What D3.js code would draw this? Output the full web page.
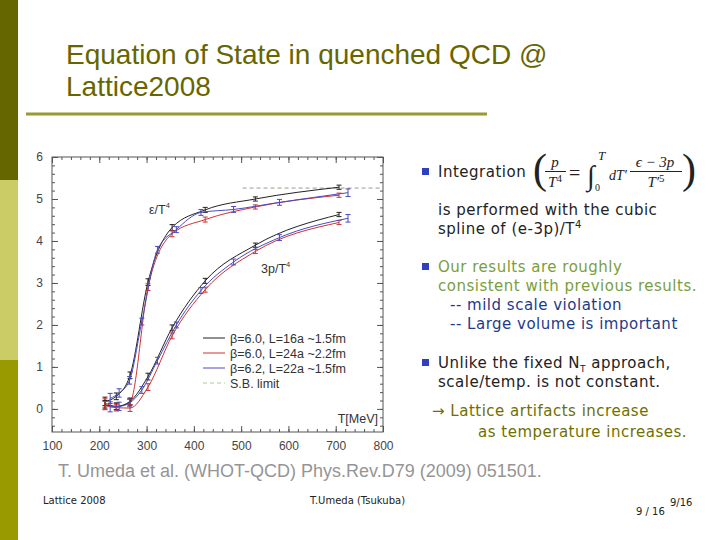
<!DOCTYPE html>
<html><head><meta charset="utf-8">
<script src="https://cdn.jsdelivr.net/npm/d3@7"></script>
<style>
html,body{margin:0;padding:0;background:#fff;}
svg{display:block;}
</style></head>
<body>
<svg id="s" width="720" height="540"></svg>
<script>
// ---------- data ----------
const T_b60 = [212, 236, 265, 303, 354, 424, 530, 707];
const T_b62 = [223, 242, 264, 290, 323, 363, 415, 484, 581, 726];
const eps_b60L16 = [0.18, 0.30, 0.80, 3.02, 4.32, 4.74, 5.00, 5.28];
const eps_b60L24 = [0.14, 0.06, 0.16, 2.90, 4.17, 4.51, 4.81, 5.09];
const eps_b62L22 = [0.25, 0.38, 0.68, 2.08, 3.79, 4.27, 4.68, 4.75, 4.92, 5.15];
const p3_b60L16 = [0.10, 0.06, 0.18, 0.77, 1.93, 3.05, 3.90, 4.63];
const p3_b60L24 = [0.08, 0.03, 0.02, 0.52, 1.74, 2.84, 3.75, 4.44];
const p3_b62L22 = [0.05, 0.06, 0.14, 0.45, 1.15, 2.00, 2.82, 3.50, 4.08, 4.54];
const err_b60 = [0.10, 0.08, 0.08, 0.08, 0.07, 0.06, 0.05, 0.05];
const err_b62 = [0.12, 0.10, 0.09, 0.08, 0.08, 0.07, 0.07, 0.07, 0.07, 0.09];
const sbLimit = 5.26;
const sbRange = [503, 800];
const legendLabels = ["β=6.0, L=16a ~1.5fm", "β=6.0, L=24a ~2.2fm", "β=6.2, L=22a ~1.5fm", "S.B. limit"];
const xTicks = [100, 200, 300, 400, 500, 600, 700, 800];
const yTicks = [0, 1, 2, 3, 4, 5, 6];

const svg = d3.select("#s");

// ---------- slide decoration ----------
svg.append("rect").attr("x",0).attr("y",0).attr("width",18).attr("height",180).attr("fill","#666600");
svg.append("rect").attr("x",0).attr("y",180).attr("width",18).attr("height",180).attr("fill","#cccc66");
svg.append("rect").attr("x",0).attr("y",360).attr("width",18).attr("height",180).attr("fill","#999900");
svg.append("rect").attr("x",26).attr("y",112.5).attr("width",461).attr("height",3).attr("fill","#999933");

const title = svg.append("text").attr("font-family","Liberation Sans, Arial, sans-serif")
  .attr("font-size",28).attr("fill","#666600");
title.append("tspan").attr("x",66).attr("y",64).text("Equation of State in quenched QCD @");
title.append("tspan").attr("x",66).attr("y",96).text("Lattice2008");

// ---------- chart ----------
const x = d3.scaleLinear().domain([100,800]).range([52,383]);
const y = d3.scaleLinear().domain([-0.55,6]).range([432,157]);
const axCol = "#555";
const g = svg.append("g");

g.append("rect").attr("x",52).attr("y",157).attr("width",331).attr("height",275)
  .attr("fill","none").attr("stroke",axCol).attr("stroke-width",1);

function styleAxis(sel){
  sel.select(".domain").remove();
  sel.selectAll("line").attr("stroke",axCol);
  sel.selectAll("text").attr("fill","#444").attr("font-family","Liberation Sans, Arial, sans-serif").attr("font-size",12);
}
const xMinor = d3.range(100,801,20);
const yMinor = d3.range(-0.4,6.01,0.2).map(v=>+v.toFixed(2));
// bottom
g.append("g").attr("transform","translate(0,432)").call(d3.axisBottom(x).tickValues(xMinor).tickSize(-3).tickFormat("")).call(styleAxis);
g.append("g").attr("transform","translate(0,432)").call(d3.axisBottom(x).tickValues(xTicks).tickSize(-6).tickPadding(9).tickFormat(d3.format("d"))).call(styleAxis);
// top
g.append("g").attr("transform","translate(0,157)").call(d3.axisTop(x).tickValues(xMinor).tickSize(-3).tickFormat("")).call(styleAxis);
g.append("g").attr("transform","translate(0,157)").call(d3.axisTop(x).tickValues(xTicks).tickSize(-6).tickFormat("")).call(styleAxis);
// left
g.append("g").attr("transform","translate(52,0)").call(d3.axisLeft(y).tickValues(yMinor).tickSize(-3).tickFormat("")).call(styleAxis);
g.append("g").attr("transform","translate(52,0)").call(d3.axisLeft(y).tickValues(yTicks).tickSize(-6).tickPadding(9).tickFormat(d3.format("d"))).call(styleAxis);
// right
g.append("g").attr("transform","translate(383,0)").call(d3.axisRight(y).tickValues(yMinor).tickSize(-3).tickFormat("")).call(styleAxis);
g.append("g").attr("transform","translate(383,0)").call(d3.axisRight(y).tickValues(yTicks).tickSize(-6).tickFormat("")).call(styleAxis);

// SB limit
g.append("line").attr("x1",x(sbRange[0])).attr("x2",x(sbRange[1])).attr("y1",y(sbLimit)).attr("y2",y(sbLimit))
  .attr("stroke","#9a9a88").attr("stroke-dasharray","4,3").attr("stroke-width",1);

const series = [
  {T:T_b60, v:eps_b60L16, e:err_b60, c:"#222222"},
  {T:T_b60, v:eps_b60L24, e:err_b60, c:"#cc3333"},
  {T:T_b62, v:eps_b62L22, e:err_b62, c:"#4a4ac0"},
  {T:T_b60, v:p3_b60L16, e:err_b60, c:"#222222"},
  {T:T_b60, v:p3_b60L24, e:err_b60, c:"#cc3333"},
  {T:T_b62, v:p3_b62L22, e:err_b62, c:"#4a4ac0"}
];
const line = d3.line().x(d=>x(d[0])).y(d=>y(d[1])).curve(d3.curveMonotoneX);
series.forEach(s=>{
  const pts = s.T.map((t,i)=>[t,s.v[i],s.e[i]]);
  g.append("path").datum(pts).attr("d",line).attr("fill","none").attr("stroke",s.c).attr("stroke-width",1);
  const eb = g.append("g").attr("stroke",s.c).attr("stroke-width",1);
  pts.forEach(p=>{
    const cx = x(p[0]), y1 = y(p[1]+p[2]), y2 = y(p[1]-p[2]);
    eb.append("line").attr("x1",cx).attr("x2",cx).attr("y1",y1).attr("y2",y2);
    eb.append("line").attr("x1",cx-2.5).attr("x2",cx+2.5).attr("y1",y1).attr("y2",y1);
    eb.append("line").attr("x1",cx-2.5).attr("x2",cx+2.5).attr("y1",y2).attr("y2",y2);
  });
});

// curve labels
const lf = "Liberation Sans, Arial, sans-serif";
const l1 = g.append("text").attr("x",149).attr("y",214).attr("font-family",lf).attr("font-size",12.5).attr("fill","#333");
l1.append("tspan").text("ε/T");
l1.append("tspan").attr("dy",-6).attr("font-size",7.5).text("4");
const l2 = g.append("text").attr("x",261).attr("y",273).attr("font-family",lf).attr("font-size",12.5).attr("fill","#333");
l2.append("tspan").text("3p/T");
l2.append("tspan").attr("dy",-6).attr("font-size",7.5).text("4");
g.append("text").attr("x",378).attr("y",423).attr("text-anchor","end").attr("font-family",lf).attr("font-size",12.5).attr("fill","#333").text("T[MeV]");

// legend
const legCols = ["#222222","#cc3333","#4a4ac0","#a9c99a"];
legendLabels.forEach((t,i)=>{
  const ly = 338 + i*15;
  g.append("line").attr("x1",203).attr("x2",225).attr("y1",ly).attr("y2",ly)
    .attr("stroke",legCols[i]).attr("stroke-width",1).attr("stroke-dasharray", i===3?"4,3":null);
  g.append("text").attr("x",230).attr("y",ly+4.5).attr("font-family",lf).attr("font-size",12.5).attr("fill","#333").text(t);
});

// ---------- right text panel ----------
const tf = "DejaVu Sans, Verdana, sans-serif";
function bullet(by){
  svg.append("rect").attr("x",422).attr("y",by-4).attr("width",7).attr("height",7).attr("fill","#2e3fbf");
}
function txt(xx,yy,str,col){
  return svg.append("text").attr("x",xx).attr("y",yy).attr("font-family",tf).attr("font-size",15)
    .attr("letter-spacing",0.5).attr("fill",col).text(str);
}
bullet(172);
txt(438,177,"Integration","#222");
// formula
const ff = "Liberation Serif, Times New Roman, serif";
svg.append("text").attr("x",533).attr("y",183).attr("font-family",ff).attr("font-size",42).attr("fill","#222").text("(");
svg.append("text").attr("x",555).attr("y",167).attr("text-anchor","middle").attr("font-family",ff).attr("font-style","italic").attr("font-size",15).attr("fill","#222").text("p");
svg.append("line").attr("x1",545).attr("x2",566).attr("y1",171.5).attr("y2",171.5).attr("stroke","#222").attr("stroke-width",1);
const tt = svg.append("text").attr("x",555).attr("y",187).attr("text-anchor","middle").attr("font-family",ff).attr("font-size",15).attr("fill","#222");
tt.append("tspan").attr("font-style","italic").text("T");
tt.append("tspan").attr("dy",-5).attr("font-size",11).text("4");
svg.append("text").attr("x",569).attr("y",180).attr("font-family",ff).attr("font-size",20).attr("fill","#222").text("=");
svg.append("text").attr("x",587).attr("y",185).attr("font-family",ff).attr("font-style","italic").attr("font-size",28).attr("fill","#222").text("∫");
svg.append("text").attr("x",598).attr("y",160).attr("font-family",ff).attr("font-style","italic").attr("font-size",13).attr("fill","#222").text("T");
svg.append("text").attr("x",595).attr("y",191).attr("font-family",ff).attr("font-size",10).attr("fill","#222").text("0");
svg.append("text").attr("x",609).attr("y",180).attr("font-family",ff).attr("font-style","italic").attr("font-size",14).attr("fill","#222").text("dT′");
svg.append("text").attr("x",655).attr("y",167).attr("text-anchor","middle").attr("font-family",ff).attr("font-style","italic").attr("font-size",15).attr("fill","#222").text("ϵ − 3p");
svg.append("line").attr("x1",630).attr("x2",682).attr("y1",171.5).attr("y2",171.5).attr("stroke","#222").attr("stroke-width",1);
const t5 = svg.append("text").attr("x",656).attr("y",187).attr("text-anchor","middle").attr("font-family",ff).attr("font-size",15).attr("fill","#222");
t5.append("tspan").attr("font-style","italic").text("T′");
t5.append("tspan").attr("dy",-5).attr("font-size",11).text("5");
svg.append("text").attr("x",682).attr("y",183).attr("font-family",ff).attr("font-size",42).attr("fill","#222").text(")");

txt(438,215,"is performed with the cubic","#222");
const sp = txt(438,234,"spline of (e-3p)/T","#222");
sp.append("tspan").attr("dy",-6).attr("font-size",10).text("4");

bullet(267);
txt(438,272,"Our results are roughly","#7a9e3c");
txt(438,291,"consistent with previous results.","#7a9e3c");
txt(450,310,"-- mild scale violation","#1f3a8a");
txt(450,329,"-- Large volume is important","#1f3a8a");

bullet(363);
const un = txt(438,368,"Unlike the fixed N","#222");
un.append("tspan").attr("dy",4).attr("font-size",9).text("T");
un.append("tspan").attr("dy",-4).text(" approach,");
txt(438,387,"scale/temp. is not constant.","#222");

txt(432,416,"→ Lattice artifacts increase","#6f6f00");
txt(478,437,"as temperature increases.","#6f6f00");

// ---------- citation & footer ----------
svg.append("text").attr("x",58).attr("y",477).attr("font-family","Liberation Sans, Arial, sans-serif")
  .attr("font-size",18).attr("fill","#959595").text("T. Umeda et al. (WHOT-QCD) Phys.Rev.D79 (2009) 051501.");
const foot = (xx,yy,s,fs)=>svg.append("text").attr("x",xx).attr("y",yy).attr("font-family",tf).attr("font-size",fs||10).attr("fill","#222").text(s);
foot(43,504,"Lattice 2008");
foot(310,504,"T.Umeda (Tsukuba)");
foot(636,515,"9 / 16");
foot(670,506,"9/16");
</script>
</body></html>
